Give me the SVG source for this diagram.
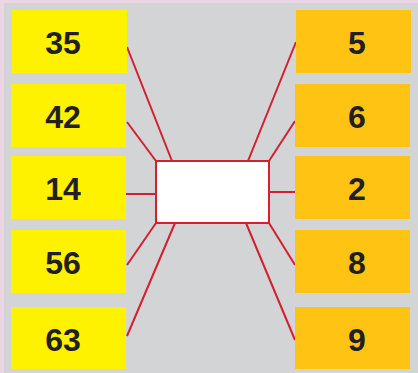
<svg xmlns="http://www.w3.org/2000/svg" width="418" height="373" viewBox="0 0 418 373">
<style>
.l{fill:#fff200}
.r{fill:#ffc413}
text{font-family:"Liberation Sans",Arial,sans-serif;font-weight:bold;font-size:32px;fill:#231f20;text-anchor:middle}
.c{stroke:#d2202f;stroke-width:2;fill:none}
</style>
<rect x="0" y="0" width="418" height="373" fill="#ecd6e6"/>
<rect x="4" y="3" width="414" height="370" fill="#d3d4d6"/>
<g id="connectors" class="c">
<line x1="127" y1="47" x2="172" y2="161"/>
<line x1="127" y1="122" x2="156" y2="161"/>
<line x1="126" y1="194" x2="156" y2="194"/>
<line x1="127" y1="265" x2="156" y2="223"/>
<line x1="127" y1="336" x2="175" y2="223"/>
<line x1="296" y1="42" x2="248" y2="161"/>
<line x1="295" y1="121" x2="269" y2="161"/>
<line x1="269" y1="192" x2="295" y2="192"/>
<line x1="295" y1="265" x2="269" y2="223"/>
<line x1="295" y1="340" x2="246" y2="223"/>
</g>
<g id="center"><rect x="156" y="161" width="113" height="62" fill="#fff" stroke="#d2202f" stroke-width="2"/></g>
<g id="n35"><rect class="l" x="12" y="10" width="115" height="63"/><text x="63" y="54">35</text></g>
<g id="n42"><rect class="l" x="11" y="84" width="115" height="63"/><text x="63" y="128">42</text></g>
<g id="n14"><rect class="l" x="11" y="156" width="115" height="63"/><text x="63" y="200">14</text></g>
<g id="n56"><rect class="l" x="11" y="230" width="115" height="63"/><text x="63" y="274">56</text></g>
<g id="n63"><rect class="l" x="11" y="307" width="115" height="62"/><text x="63" y="351">63</text></g>
<g id="n5"><rect class="r" x="296" y="10" width="115" height="63"/><text x="357" y="54">5</text></g>
<g id="n6"><rect class="r" x="295" y="84" width="115" height="63"/><text x="357" y="128">6</text></g>
<g id="n2"><rect class="r" x="295" y="156" width="115" height="63"/><text x="357" y="200">2</text></g>
<g id="n8"><rect class="r" x="295" y="230" width="115" height="63"/><text x="357" y="274">8</text></g>
<g id="n9"><rect class="r" x="295" y="307" width="115" height="62"/><text x="357" y="351">9</text></g>
</svg>
